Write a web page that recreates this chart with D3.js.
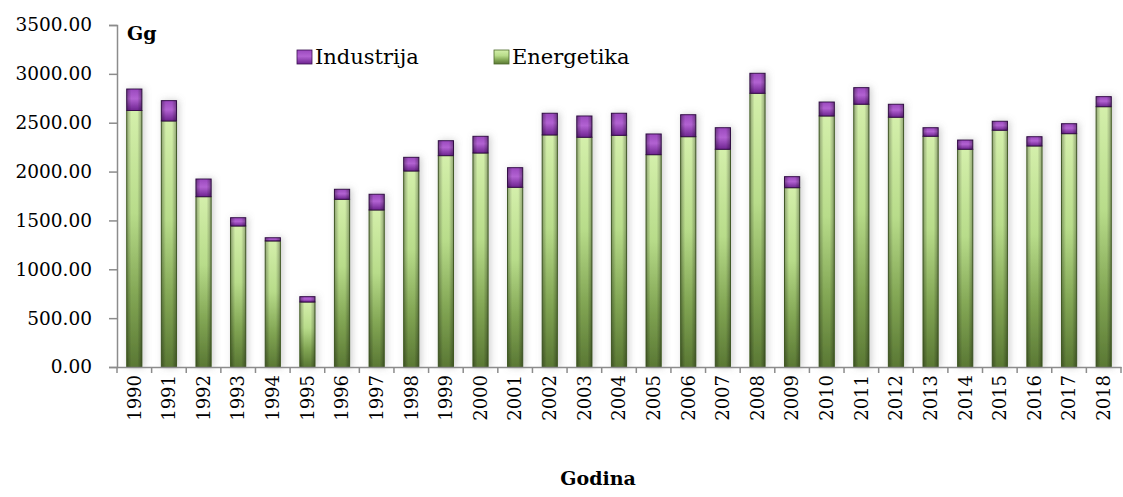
<!DOCTYPE html>
<html><head><meta charset="utf-8">
<script src="https://cdn.jsdelivr.net/npm/d3@7/dist/d3.min.js"></script>
<style>body{margin:0;background:#fff}svg{display:block}</style>
</head><body>
<svg id="c" width="1123" height="497"></svg>
<script>
const years = ["1990","1991","1992","1993","1994","1995","1996","1997","1998","1999","2000","2001","2002","2003","2004","2005","2006","2007","2008","2009","2010","2011","2012","2013","2014","2015","2016","2017","2018"];
const energetika = [2625,2518,1743,1443,1290,665,1716,1607,2006,2163,2190,1839,2375,2351,2371,2173,2357,2228,2801,1835,2569,2689,2556,2361,2228,2423,2262,2388,2664];
const industrija = [220,208,181,85,33,55,103,161,140,153,171,201,222,218,226,212,225,221,205,113,143,170,133,88,95,92,95,102,103];
const yTicks = [0,500,1000,1500,2000,2500,3000,3500];
const seriesNames = ["Industrija","Energetika"];

const svg = d3.select("#c");
const FONT = "DejaVu Serif, Liberation Serif, serif";
const x = d3.scaleBand().domain(years).range([117,1121]).paddingInner(0.56).paddingOuter(0.28);
const y = d3.scaleLinear().domain([0,3500]).range([367,25]);

const defs = svg.append("defs");
const gG = defs.append("linearGradient").attr("id","gG").attr("x1",0).attr("y1",0).attr("x2",0).attr("y2",1);
gG.append("stop").attr("offset","0%").attr("stop-color","#d4efab");
gG.append("stop").attr("offset","40%").attr("stop-color","#b8dc8a");
gG.append("stop").attr("offset","72%").attr("stop-color","#82a654");
gG.append("stop").attr("offset","100%").attr("stop-color","#5a7834");
const gP = defs.append("linearGradient").attr("id","gP").attr("x1",0).attr("y1",0).attr("x2",0).attr("y2",1);
gP.append("stop").attr("offset","0%").attr("stop-color","#9a48bd");
gP.append("stop").attr("offset","45%").attr("stop-color","#b262d2");
gP.append("stop").attr("offset","100%").attr("stop-color","#6e2490");
const gE = defs.append("linearGradient").attr("id","gE").attr("x1",0).attr("y1",0).attr("x2",1).attr("y2",0);
gE.append("stop").attr("offset","0%").attr("stop-color","#000").attr("stop-opacity",0.32);
gE.append("stop").attr("offset","30%").attr("stop-color","#000").attr("stop-opacity",0.0);
gE.append("stop").attr("offset","70%").attr("stop-color","#000").attr("stop-opacity",0.0);
gE.append("stop").attr("offset","100%").attr("stop-color","#000").attr("stop-opacity",0.32);
const f = defs.append("filter").attr("id","sh").attr("x","-60%").attr("y","-20%").attr("width","220%").attr("height","140%");
f.append("feDropShadow").attr("dx",2).attr("dy",0).attr("stdDeviation",3.5).attr("flood-color","#777").attr("flood-opacity",0.35);

// bars
const bw = x.bandwidth();
const g = svg.append("g");
years.forEach((yr,i)=>{
  const bx = x(yr);
  const e = energetika[i], t = energetika[i]+industrija[i];
  const bar = g.append("g").attr("filter","url(#sh)");
  bar.append("rect").attr("x",bx).attr("y",y(e)).attr("width",bw).attr("height",y(0)-y(e))
     .attr("fill","url(#gG)").attr("stroke","#4d6a2b").attr("stroke-width",1);
  bar.append("rect").attr("x",bx).attr("y",y(e)).attr("width",bw).attr("height",y(0)-y(e)).attr("fill","url(#gE)");
  bar.append("rect").attr("x",bx).attr("y",y(t)).attr("width",bw).attr("height",y(e)-y(t))
     .attr("fill","url(#gP)").attr("stroke","#3b1050").attr("stroke-width",1);
  bar.append("rect").attr("x",bx).attr("y",y(t)).attr("width",bw).attr("height",y(e)-y(t)).attr("fill","url(#gE)");
});

// y axis
const ya = svg.append("g").attr("transform","translate(117,0)")
  .call(d3.axisLeft(y).tickValues(yTicks).tickFormat(d3.format(".2f")).tickSize(8).tickPadding(17));
ya.select(".domain").attr("stroke","#8c8c8c").attr("stroke-width",1.5);
ya.selectAll(".tick line").attr("stroke","#8c8c8c").attr("stroke-width",1.5);
ya.selectAll("text").attr("font-family",FONT).attr("font-size",18.5).attr("fill","#000");

// x axis
const xa = svg.append("g").attr("transform","translate(0,367)")
  .call(d3.axisBottom(x).tickSize(0).tickSizeOuter(0));
xa.select(".domain").attr("stroke","#8c8c8c").attr("stroke-width",1.5);
xa.selectAll(".tick text").attr("font-family",FONT).attr("font-size",18).attr("fill","#000")
  .attr("transform","rotate(-90)").attr("text-anchor","end").attr("dx","-8").attr("dy","0.35em").attr("y",0).attr("x",0);
const bounds = years.map(d=>x(d)-x.step()*x.paddingInner()/2).concat([x.range()[1]]);
xa.selectAll(".bt").data(bounds).enter().append("line").attr("class","bt")
  .attr("x1",d=>d).attr("x2",d=>d).attr("y1",0).attr("y2",6).attr("stroke","#8c8c8c").attr("stroke-width",1.5);

// titles
svg.append("text").attr("x",127).attr("y",40).attr("font-family",FONT).attr("font-weight","bold").attr("font-size",19).text("Gg");
svg.append("text").attr("x",598).attr("y",485).attr("text-anchor","middle").attr("font-family",FONT).attr("font-weight","bold").attr("font-size",19).text("Godina");

// legend
const leg = [{n:seriesNames[0],fill:"url(#gP)",stroke:"#3b1050",x:297},{n:seriesNames[1],fill:"url(#gG)",stroke:"#4d6a2b",x:494}];
leg.forEach(l=>{
  svg.append("rect").attr("x",l.x).attr("y",50).attr("width",15).attr("height",14).attr("fill",l.fill).attr("stroke",l.stroke).attr("stroke-width",0.8);
  svg.append("text").attr("x",l.x+18).attr("y",64).attr("font-family",FONT).attr("font-size",21).text(l.n);
});
</script>
</body></html>
